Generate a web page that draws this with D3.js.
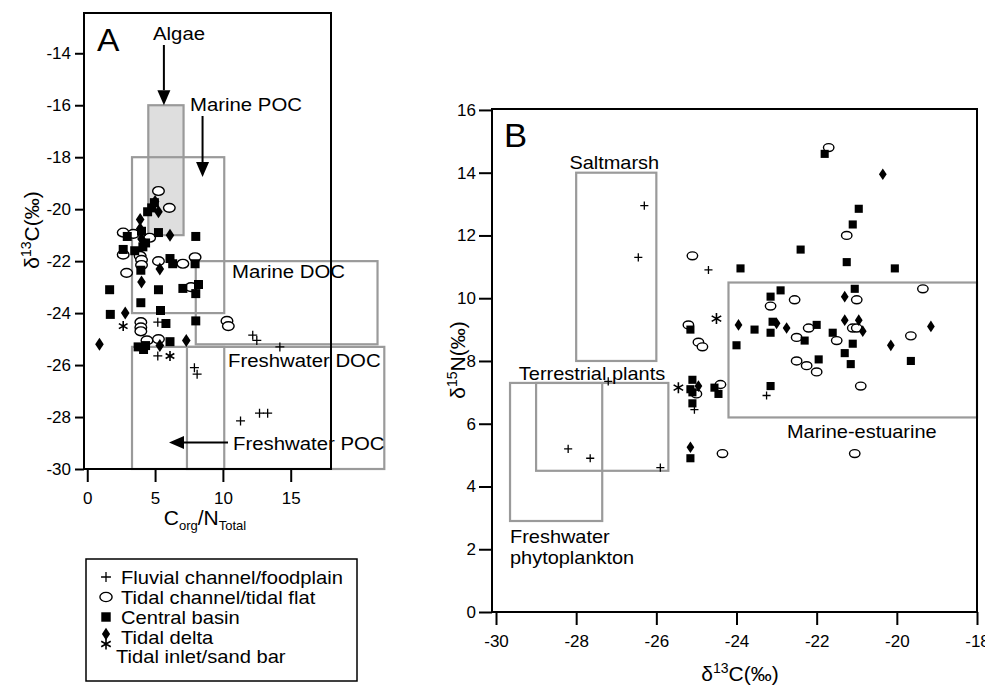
<!DOCTYPE html>
<html><head><meta charset="utf-8">
<script src="https://cdn.jsdelivr.net/npm/d3@7"></script>
<style>body{margin:0;background:#fff}svg{display:block}text{font-family:"Liberation Sans",Arial,Helvetica,sans-serif;fill:#000}</style>
</head><body><svg id="c" width="985" height="687"></svg>
<script>
// ---------------- DATA ----------------
// Panel A: x = C_org/N_Total, y = δ13C (‰)
const aXTicks = [0, 5, 10, 15];
const aYTicks = [-30, -28, -26, -24, -22, -20, -18, -16, -14];
const aFluvial = [[5.2,-24.35],[5.2,-25.65],[12.2,-24.85],[12.5,-25.05],[14.2,-25.3],[7.9,-26.1],[8.1,-26.35],[11.3,-28.15],[12.7,-27.85],[13.3,-27.85]];
const aTidalFlat = [[5.25,-19.3],[6.05,-19.95],[2.65,-20.9],[3.4,-20.95],[4.6,-21.1],[2.65,-21.75],[3.9,-21.8],[4.0,-21.95],[4.0,-22.15],[5.25,-22.0],[7.05,-22.1],[7.95,-21.85],[2.9,-22.45],[7.65,-23.0],[3.95,-24.35],[3.95,-24.55],[3.95,-24.7],[10.3,-24.3],[10.4,-24.5],[4.4,-25.05],[5.25,-25.0]];
const aBasin = [[4.75,-19.95],[4.45,-20.1],[4.95,-19.75],[2.95,-21.05],[5.25,-20.9],[8.0,-21.05],[2.65,-21.55],[3.5,-21.6],[4.1,-21.45],[4.3,-21.3],[4.0,-20.85],[6.1,-21.9],[6.3,-22.1],[7.95,-22.1],[3.95,-22.35],[1.65,-23.1],[5.25,-23.1],[7.05,-23.05],[8.2,-22.9],[8.0,-23.25],[3.95,-23.6],[1.7,-24.05],[5.4,-23.9],[5.8,-24.4],[8.0,-24.3],[6.1,-25.1],[3.75,-25.3],[4.15,-25.4],[4.3,-25.25]];
const aDelta = [[5.25,-20.1],[5.0,-19.7],[3.9,-20.4],[3.9,-20.75],[6.1,-21.0],[4.0,-21.15],[5.35,-22.3],[4.0,-22.8],[2.8,-24.0],[0.9,-25.2],[7.3,-25.05],[5.35,-25.25]];
const aInlet = [[2.65,-24.5],[6.1,-25.65]];
// source boxes [x0, x1, y0, y1]
const aBoxNames = ["Algae", "Marine POC", "Marine DOC", "Freshwater DOC", "Freshwater POC"];
const aBoxes = [[4.5,7.1,-21,-16],[3.3,10.1,-24,-18],[8.0,21.4,-25.2,-22],[7.35,21.9,-30,-25.3],[3.3,10.1,-30,-25.3]];

// Panel B: x = δ13C (‰), y = δ15N (‰)
const bXTicks = [-30, -28, -26, -24, -22, -20, -18];
const bYTicks = [0, 2, 4, 6, 8, 10, 12, 14, 16];
const bFluvial = [[-26.3,12.95],[-26.45,11.3],[-24.7,10.9],[-27.2,7.35],[-25.05,6.45],[-28.2,5.2],[-27.65,4.9],[-25.9,4.6],[-23.25,6.9]];
const bTidalFlat = [[-25.1,11.35],[-21.7,14.8],[-21.25,12.0],[-22.55,9.95],[-23.15,9.75],[-21.0,9.95],[-19.35,10.3],[-22.2,9.05],[-22.5,8.75],[-21.5,8.65],[-21.1,9.05],[-21.0,9.05],[-19.65,8.8],[-22.5,8.0],[-22.25,7.85],[-22.0,7.65],[-20.9,7.2],[-21.05,5.05],[-25.2,9.15],[-24.95,8.6],[-24.85,8.45],[-25.0,6.95],[-24.4,7.25],[-24.35,5.05]];
const bBasin = [[-21.8,14.6],[-20.95,12.85],[-21.1,12.35],[-22.4,11.55],[-23.9,10.95],[-21.25,11.15],[-20.05,10.95],[-22.9,10.25],[-23.15,10.05],[-21.05,10.3],[-23.55,9.0],[-23.1,9.25],[-23.15,8.9],[-22.0,9.15],[-22.3,8.65],[-21.6,8.9],[-21.1,8.55],[-24.0,8.5],[-21.95,8.05],[-21.3,8.25],[-21.15,7.9],[-19.65,8.0],[-23.15,7.2],[-25.15,9.0],[-25.1,7.4],[-25.15,7.1],[-25.1,7.0],[-25.1,6.65],[-24.55,7.15],[-24.45,6.95],[-25.15,4.9]];
const bDelta = [[-20.35,13.95],[-21.3,10.05],[-23.95,9.15],[-23.0,9.2],[-22.75,9.05],[-21.3,9.3],[-20.95,9.3],[-20.85,8.95],[-19.15,9.1],[-20.15,8.5],[-24.95,7.2],[-25.15,5.25]];
const bInlet = [[-24.5,9.35],[-25.45,7.15]];
const bBoxNames = ["Saltmarsh", "Terrestrial plants", "Freshwater phytoplankton", "Marine-estuarine"];
const bBoxes = [[-28,-26,8,14],[-29,-25.7,4.5,7.3],[-29.65,-27.35,2.9,7.3],[-24.2,-18,6.2,10.5]];

const legendLabels = ["Fluvial channel/foodplain", "Tidal channel/tidal flat", "Central basin", "Tidal delta", "Tidal inlet/sand bar"];

// ---------------- DRAW ----------------
const svg = d3.select("#c");
const ax = d3.scaleLinear().domain([-0.24, 17.97]).range([84, 331]);
const ay = d3.scaleLinear().domain([-30, -12.45]).range([469, 13]);
const bx = d3.scaleLinear().domain([-30.1, -18]).range([492, 977]);
const by = d3.scaleLinear().domain([0, 16.03]).range([612, 109]);

const BOXC = "#9a9a9a";
const paths = {
  square: "M-4.5,-4.5h9v9h-9z",
  diamond: "M0,-6.5L4.3,0L0,6.5L-4.3,0Z",
  plus: "M-4.5,0H4.5M0,-4.5V4.5",
  star: "M0,-5V5M-4.33,-2.5L4.33,2.5M-4.33,2.5L4.33,-2.5"
};
function drawSeries(g, data, kind, xs, ys, k) {
  const sel = g.append("g").selectAll(null).data(data).enter();
  if (kind === "circle") {
    sel.append("ellipse").attr("cx", d => xs(d[0])).attr("cy", d => ys(d[1]))
      .attr("rx", 5.8 * k).attr("ry", 4.4 * k).attr("fill", "#fff").attr("stroke", "#000").attr("stroke-width", 1.4);
  } else {
    const filled = kind === "square" || kind === "diamond";
    sel.append("path").attr("transform", d => `translate(${xs(d[0])},${ys(d[1])}) scale(${k})`)
      .attr("d", paths[kind])
      .attr("fill", filled ? "#000" : "none")
      .attr("stroke", "#000").attr("stroke-width", filled ? 0 : (kind === "star" ? 1.6 : 1.3))
      .attr("vector-effect", "non-scaling-stroke");
  }
}
function drawBoxes(g, boxes, xs, ys, fills) {
  g.append("g").selectAll("rect").data(boxes).enter().append("rect")
    .attr("x", d => xs(d[0])).attr("y", d => ys(d[3]))
    .attr("width", d => xs(d[1]) - xs(d[0])).attr("height", d => ys(d[2]) - ys(d[3]))
    .attr("fill", (d, i) => fills[i] || "none").attr("stroke", BOXC).attr("stroke-width", 2.2);
}
function styleAxis(g) {
  g.select(".domain").remove();
  g.selectAll(".tick line").attr("stroke", "#000").attr("stroke-width", 2);
  g.selectAll(".tick text").attr("font-size", 17).attr("fill", "#000")
    .attr("font-family", '"Liberation Sans",Arial,sans-serif');
}
function arrow(g, x1, y1, x2, y2) {
  const ang = Math.atan2(y2 - y1, x2 - x1);
  const L = 15, W = 6.5;
  const bx0 = x2 - L * Math.cos(ang), by0 = y2 - L * Math.sin(ang);
  g.append("line").attr("x1", x1).attr("y1", y1).attr("x2", bx0).attr("y2", by0)
    .attr("stroke", "#000").attr("stroke-width", 2);
  const px = -Math.sin(ang) * W, py = Math.cos(ang) * W;
  g.append("path").attr("d", `M${x2},${y2}L${bx0 + px},${by0 + py}L${bx0 - px},${by0 - py}Z`).attr("fill", "#000");
}
// text slightly widened horizontally, like the source figure
function wtext(g, x, y, size, str, anchor, sx) {
  return g.append("text").attr("transform", `translate(${x},${y}) scale(${sx || 1.1},1)`)
    .attr("text-anchor", anchor || "start").attr("font-size", size).text(str);
}

// ===== Panel A =====
const gA = svg.append("g");
drawBoxes(gA, aBoxes, ax, ay, ["#dedede"]);
gA.append("rect").attr("x", 84).attr("y", 13).attr("width", 331 - 84).attr("height", 469 - 13)
  .attr("fill", "none").attr("stroke", "#000").attr("stroke-width", 2);
gA.append("g").attr("transform", "translate(84,0)")
  .call(d3.axisLeft(ay).tickValues(aYTicks).tickSize(9).tickPadding(4).tickFormat(d => String(d))).call(styleAxis);
gA.append("g").attr("transform", "translate(0,469)")
  .call(d3.axisBottom(ax).tickValues(aXTicks).tickSize(13).tickPadding(10).tickFormat(d => String(d))).call(styleAxis);

drawSeries(gA, aTidalFlat, "circle", ax, ay, 1);
drawSeries(gA, aBasin, "square", ax, ay, 1);
drawSeries(gA, aDelta, "diamond", ax, ay, 1);
drawSeries(gA, aFluvial, "plus", ax, ay, 1);
drawSeries(gA, aInlet, "star", ax, ay, 1);

wtext(gA, 97, 51, 32, "A", "start", 1.05);
const ann = 18.5;
wtext(gA, 153, 40, ann, aBoxNames[0]);
arrow(gA, ax(5.65), 45, ax(5.65), ay(-16));
wtext(gA, 190, 111, ann, aBoxNames[1]);
arrow(gA, ax(8.5), 116, ax(8.5), 177);
wtext(gA, 232, 278, ann, aBoxNames[2]);
wtext(gA, 228, 367, ann, aBoxNames[3]);
wtext(gA, 233, 450, ann, aBoxNames[4]);
arrow(gA, 228, 442.5, 169, 442.5);

// axis titles A
const tA = gA.append("text").attr("transform", "translate(39,230) rotate(-90)").attr("text-anchor", "middle").attr("font-size", 21);
tA.append("tspan").text("δ");
tA.append("tspan").attr("font-size", 14).attr("dy", -8).text("13");
tA.append("tspan").attr("dy", 8).text("C(‰)");
const tAx = gA.append("text").attr("x", 205).attr("y", 525).attr("text-anchor", "middle").attr("font-size", 21);
tAx.append("tspan").text("C");
tAx.append("tspan").attr("font-size", 13).attr("dy", 5).text("org");
tAx.append("tspan").attr("dy", -5).text("/N");
tAx.append("tspan").attr("font-size", 13).attr("dy", 5).text("Total");

// ===== Legend =====
const gL = svg.append("g");
gL.append("rect").attr("x", 86).attr("y", 559).attr("width", 271).attr("height", 122)
  .attr("fill", "none").attr("stroke", "#000").attr("stroke-width", 1.5);
const legY = [577, 597, 617, 637, 656];
const legX = [121, 121, 121, 121, 116];
const symX = 106;
drawSeries(gL, [[symX, legY[0]]], "plus", d => d, d => d, 1.1);
drawSeries(gL, [[symX, legY[1]]], "circle", d => d, d => d, 1.05);
drawSeries(gL, [[symX, legY[2]]], "square", d => d, d => d, 1.05);
drawSeries(gL, [[symX, legY[3] - 3]], "diamond", d => d, d => d, 0.95);
drawSeries(gL, [[symX, legY[3] + 7]], "star", d => d, d => d, 1.1);
legendLabels.forEach((t, i) => wtext(gL, legX[i], legY[i] + 6.5, 18, t, "start", 1.12));

// ===== Panel B =====
const gB = svg.append("g");
drawBoxes(gB, bBoxes, bx, by, []);
gB.append("rect").attr("x", 492).attr("y", 109).attr("width", 977 - 492).attr("height", 612 - 109)
  .attr("fill", "none").attr("stroke", "#000").attr("stroke-width", 2);
gB.append("g").attr("transform", "translate(492,0)")
  .call(d3.axisLeft(by).tickValues(bYTicks).tickSize(13).tickPadding(3).tickFormat(d => String(d))).call(styleAxis);
gB.append("g").attr("transform", "translate(0,612)")
  .call(d3.axisBottom(bx).tickValues(bXTicks).tickSize(13).tickPadding(10).tickFormat(d => String(d))).call(styleAxis);

drawSeries(gB, bTidalFlat, "circle", bx, by, 0.9);
drawSeries(gB, bBasin, "square", bx, by, 0.9);
drawSeries(gB, bDelta, "diamond", bx, by, 0.9);
drawSeries(gB, bFluvial, "plus", bx, by, 0.9);
drawSeries(gB, bInlet, "star", bx, by, 1.1);

wtext(gB, 504, 147, 33, "B", "start", 1.05);
const lb = 19;
wtext(gB, (bx(bBoxes[0][0]) + bx(bBoxes[0][1])) / 2 - 2, 169, lb, bBoxNames[0], "middle", 1.05);
wtext(gB, 592, 380, lb, bBoxNames[1], "middle", 1.05);
const fp = bBoxNames[2].split(" ");
wtext(gB, 510, 543, lb, fp[0], "start", 1.05);
wtext(gB, 510, 564, lb, fp[1], "start", 1.05);
wtext(gB, 787, 438, lb, bBoxNames[3], "start", 1.05);

const tB = gB.append("text").attr("transform", "translate(465,360) rotate(-90)").attr("text-anchor", "middle").attr("font-size", 21);
tB.append("tspan").text("δ");
tB.append("tspan").attr("font-size", 14).attr("dy", -8).text("15");
tB.append("tspan").attr("dy", 8).text("N(‰)");
const tBx = gB.append("text").attr("x", 740).attr("y", 681).attr("text-anchor", "middle").attr("font-size", 21);
tBx.append("tspan").text("δ");
tBx.append("tspan").attr("font-size", 14).attr("dy", -8).text("13");
tBx.append("tspan").attr("dy", 8).text("C(‰)");
</script>
</body></html>
